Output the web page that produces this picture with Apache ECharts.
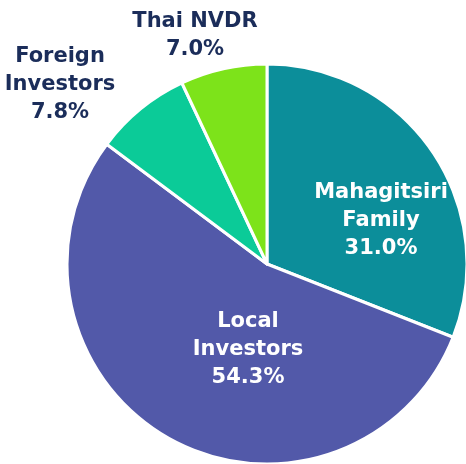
<!DOCTYPE html>
<html><head><meta charset="utf-8">
<script src="https://cdn.jsdelivr.net/npm/echarts@6/dist/echarts.min.js"></script>
<style>html,body{margin:0;padding:0;background:#fff}#c{width:466px;height:464px}</style>
</head><body><div id="c"></div>
<script>
var categories = ['Mahagitsiri\nFamily', 'Local\nInvestors', 'Foreign\nInvestors', 'Thai NVDR'];
var values = [31.0, 54.3, 7.8, 7.0];
var colors = ['#0C8E9A', '#5259A9', '#0BCB98', '#7DE31A'];
var labelColors = ['#ffffff', '#ffffff', '#1B2D5A', '#1B2D5A'];
var labelPos = [[381, 221], [248, 350], [60, 85], [195, 36]];

var chart = echarts.init(document.getElementById('c'), null, {renderer: 'canvas'});
chart.setOption({
  animation: false,
  series: [{
    type: 'pie',
    center: [267, 264],
    radius: 200,
    startAngle: 90,
    clockwise: true,
    data: categories.map(function (n, i) {
      return {name: n, value: values[i], itemStyle: {color: colors[i]},
        label: {color: labelColors[i]}};
    }),
    itemStyle: {borderColor: '#fff', borderWidth: 3},
    label: {
      show: true,
      position: 'inside',
      formatter: function (p) { return p.name + '\n' + p.value.toFixed(1) + '%'; },
      fontFamily: 'DejaVu Sans',
      fontWeight: 'bold',
      fontSize: 21,
      lineHeight: 28,
      align: 'center'
    },
    labelLine: {show: false},
    labelLayout: function (p) {
      var pos = labelPos[p.dataIndex];
      return {x: pos[0], y: pos[1], align: 'center', verticalAlign: 'middle'};
    }
  }]
});
</script></body></html>
